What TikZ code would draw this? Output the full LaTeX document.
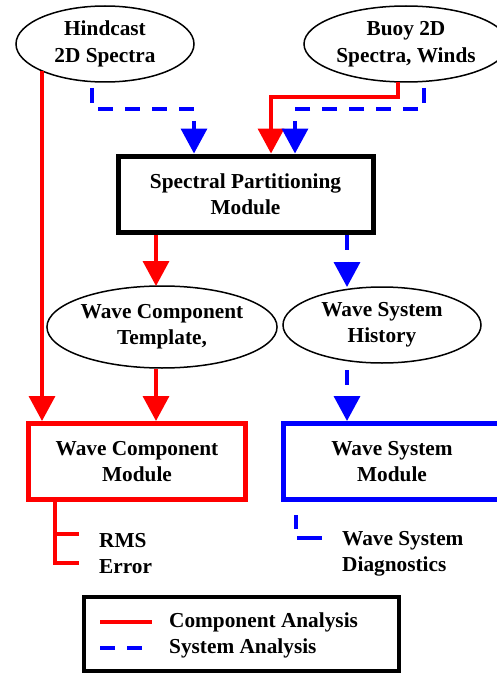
\documentclass[tikz,border=0pt]{standalone}
\usepackage{fontspec}
\setmainfont{Liberation Serif}
\usetikzlibrary{arrows.meta,shapes.geometric}
\definecolor{cred}{RGB}{255,0,0}
\definecolor{cblue}{RGB}{0,0,255}
\begin{document}
\begin{tikzpicture}[x=1pt,y=-1pt,
  txt/.style={font=\fontsize{21.3}{26}\selectfont\bfseries, align=center},
  ell/.style={txt, ellipse, draw=black, line width=1.5pt, inner sep=0pt},
  modbox/.style={txt, rectangle, draw, line width=5pt, minimum width=217pt, minimum height=76pt, inner sep=0pt},
  comp/.style={draw=cred, line width=3.5pt, -{Triangle[length=25pt,width=26pt]}},
  sys/.style={draw=cblue, line width=3.5pt, dash pattern=on 15pt off 12pt, -{Triangle[length=25pt,width=26pt]}},
  compl/.style={draw=cred, line width=3.5pt},
  sysl/.style={draw=cblue, line width=3.5pt, dash pattern=on 15pt off 12pt},
]
\useasboundingbox (0,0) rectangle (497,674);
% top inputs
\node[ell, minimum width=178pt, minimum height=76pt, font=\fontsize{21.3}{27}\selectfont\bfseries] (H) at (105,44) {Hindcast\\2D Spectra};
\node[ell, minimum width=204pt, minimum height=76pt, font=\fontsize{21.3}{27}\selectfont\bfseries] (B) at (406,44) {Buoy 2D\\Spectra, Winds};
% spectral partitioning
\node[txt, draw, line width=5pt, minimum width=255pt, minimum height=76pt, inner sep=0pt] (SP) at (245.5,194) {Spectral Partitioning\\Module};
% intermediate ellipses
\node[ell, minimum width=216pt, minimum height=82pt] (T) at (162,327) {Wave Component\\Template,};
\node[ell, minimum width=198pt, minimum height=76pt] (S) at (382,325) {Wave System\\History};
% modules
\node[modbox, draw=cred] (WC) at (137,461.5) {Wave Component\\Module};
\node[modbox, draw=cblue] (WS) at (392,461.5) {Wave System\\Module};
% outputs
\node[txt, align=left, anchor=west, inner sep=0pt] (RMS) at (99,554) {RMS\\Error};
\node[txt, align=left, anchor=west, inner sep=0pt] (DG) at (342,554) {Wave System\\Diagnostics};
% coordinates
\coordinate (h1) at (42,71);
\coordinate (h2) at (92,88);
\coordinate (h3) at (194,109);
\coordinate (b1) at (398,82);
\coordinate (b2) at (271,97);
\coordinate (b3) at (424,88);
\coordinate (b4) at (295,109);
\coordinate (t1) at (156,286);
\coordinate (s1) at (347,287);
\coordinate (t2) at (156,369);
\coordinate (s2) at (347,370);
\coordinate (r1) at (55,563);
\coordinate (r2) at (79,534);
\coordinate (d1) at (296,515);
\coordinate (d2) at (322,538);
% connectors
\draw[comp] (h1) -- (h1 |- WC.north);
\draw[sys] (h2) |- (h3) -- (h3 |- SP.north);
\draw[comp] (b1) |- (b2) -- (b2 |- SP.north);
\draw[sys] (b3) |- (b4) -- (b4 |- SP.north);
\draw[comp] (t1 |- SP.south) -- (t1);
\draw[sys] (s1 |- SP.south) -- (s1);
\draw[comp] (t2) -- (t2 |- WC.north);
\draw[sys] (s2) -- (s2 |- WS.north);
\draw[compl] (r1 |- WC.south) -- (r1) -- (r1 -| r2);
\draw[compl] (r1 |- r2) -- (r2);
\draw[sysl, dash pattern=on 14pt off 10pt on 30pt off 10pt] (d1) |- (d2);
% legend
\node[draw, line width=4pt, minimum width=315pt, minimum height=74pt, inner sep=0pt] (L) at (241.5,634) {};
\node[txt, anchor=west, inner sep=0pt] (LC) at (169,622) {Component Analysis};
\node[txt, anchor=west, inner sep=0pt] (LS) at (169,648) {System Analysis};
\coordinate (lc1) at (100,622);
\coordinate (lc2) at (152,622);
\coordinate (ls1) at (100,648);
\coordinate (ls2) at (142,648);
\draw[compl] (lc1) -- (lc2);
\draw[sysl] (ls1) -- (ls2);
\end{tikzpicture}
\end{document}
